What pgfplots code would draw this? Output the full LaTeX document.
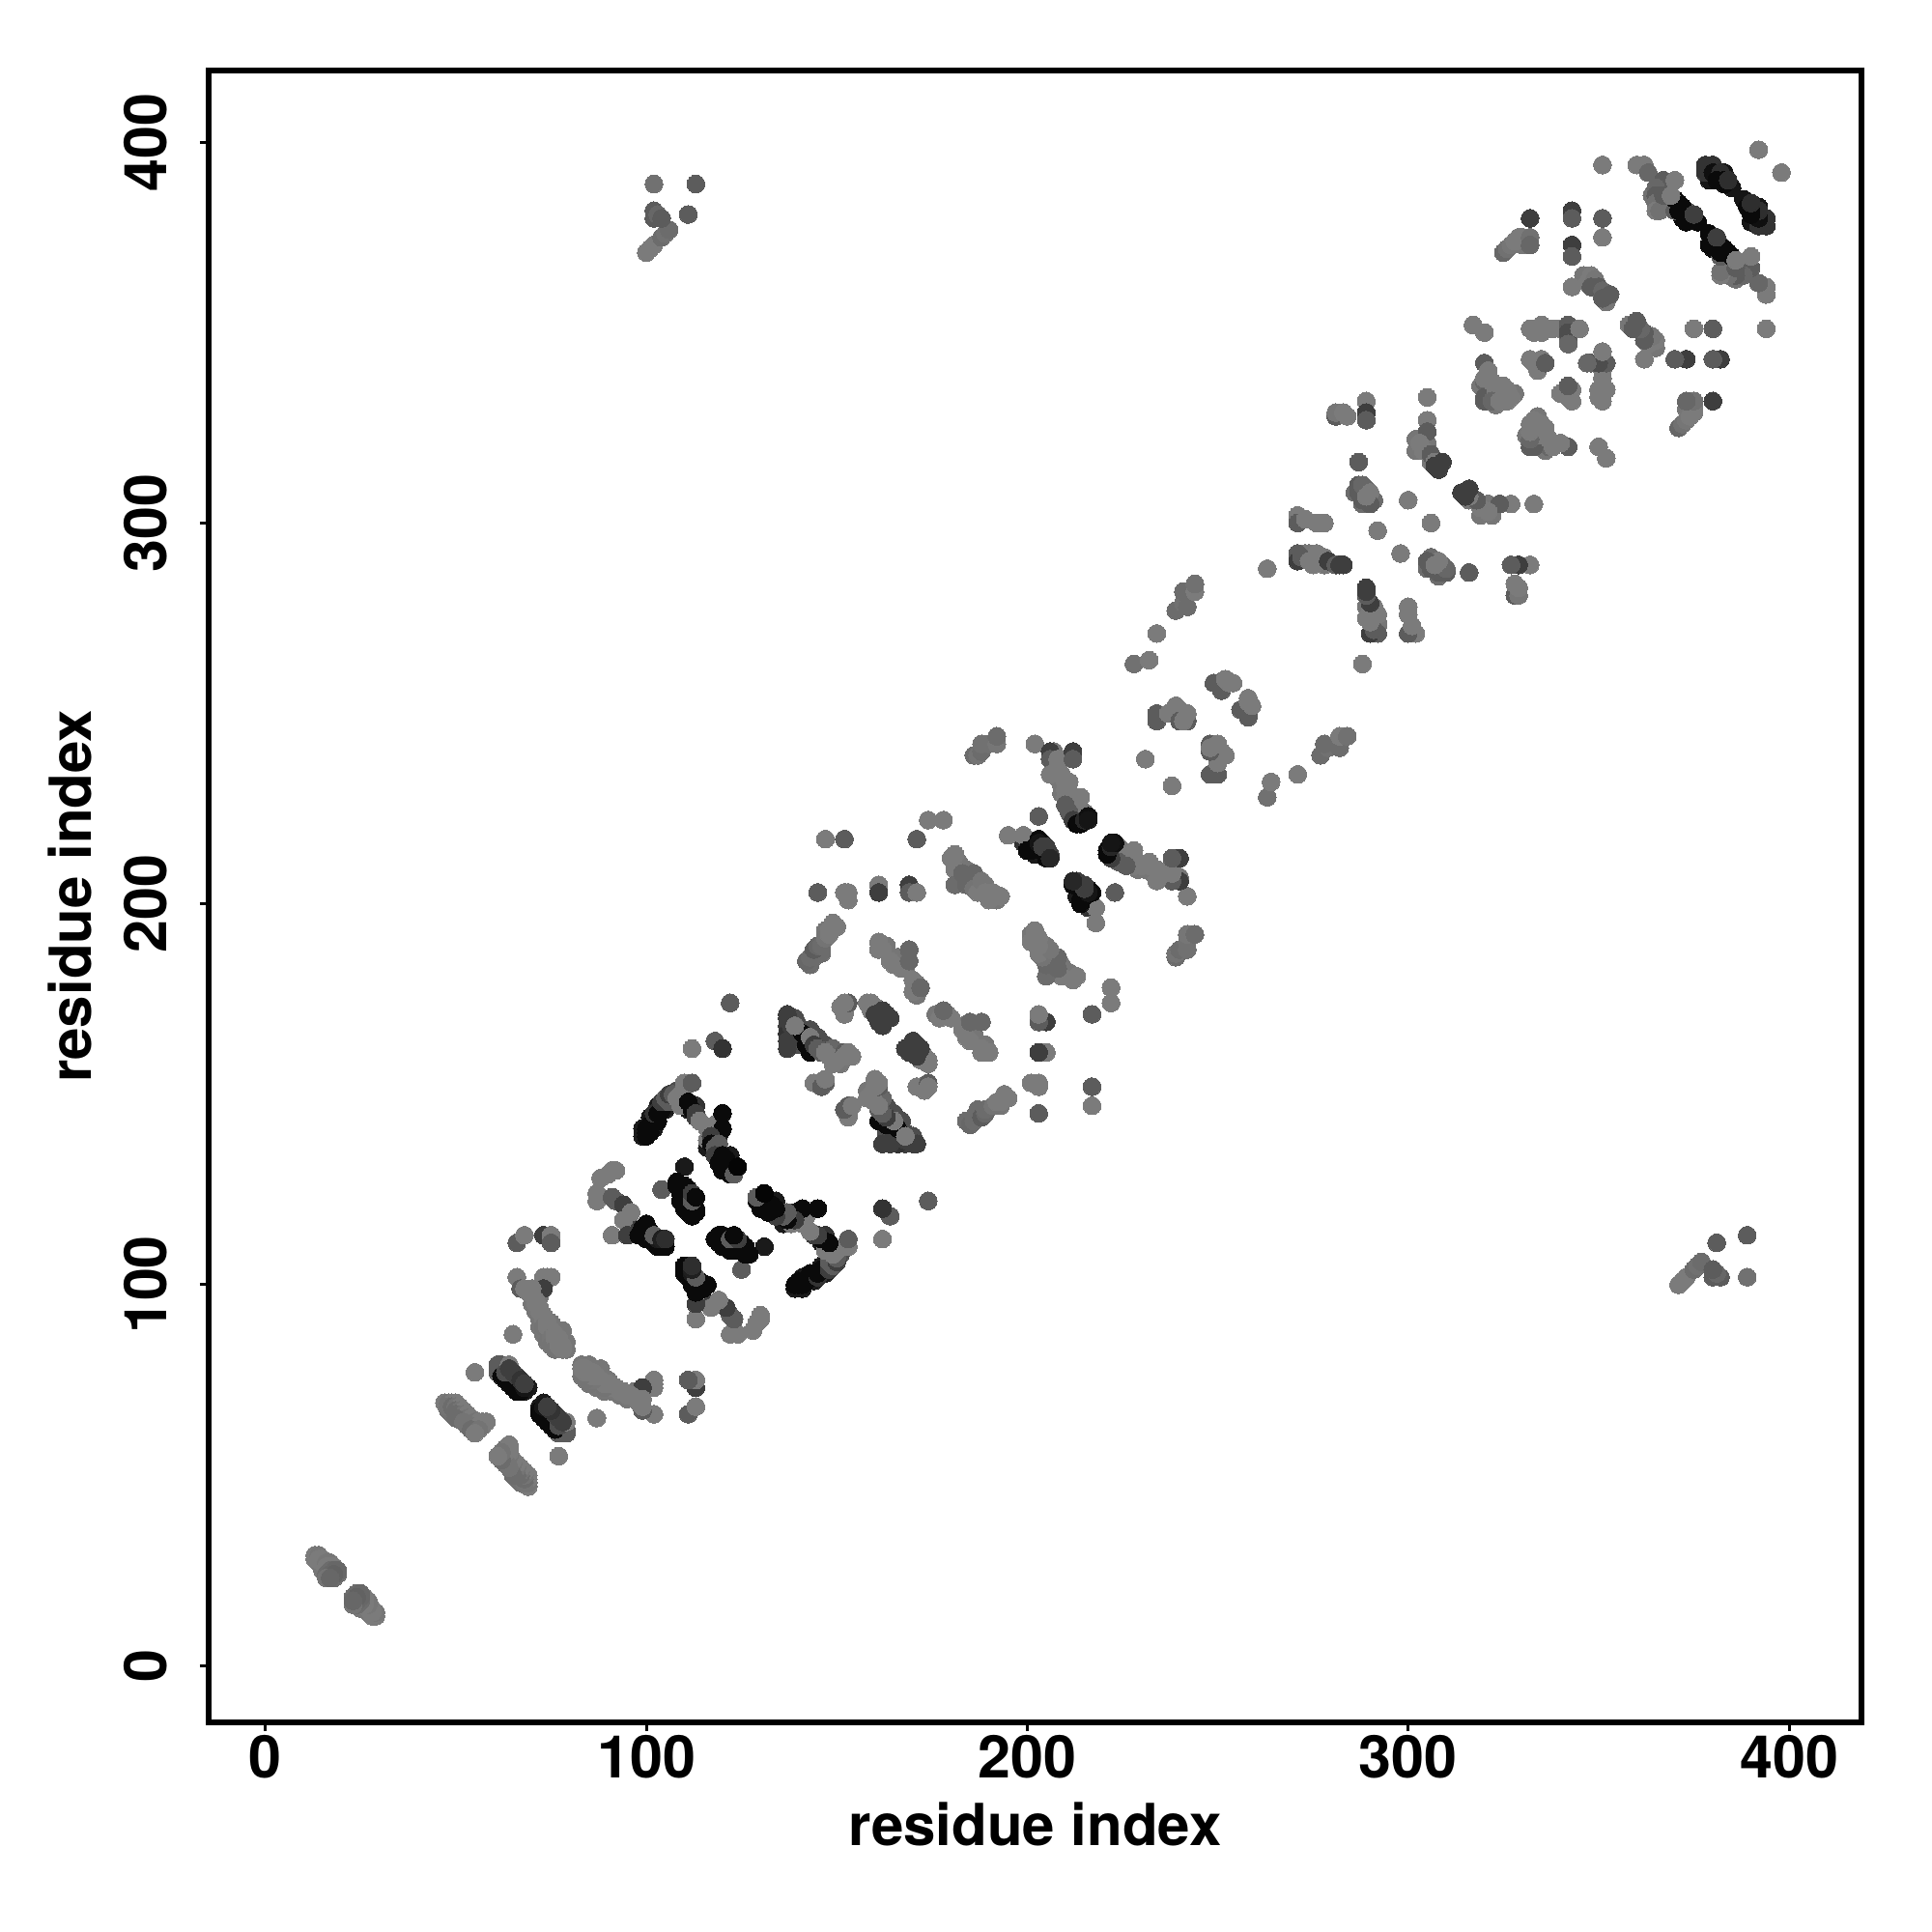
\documentclass[border=0pt]{standalone}
\usepackage{pgfplots}
\usepackage{pgfplotstable}
\usepackage{fontspec}
\setmainfont{TeX Gyre Heros}
\pgfplotsset{compat=1.18}
\pgfplotstableread[row sep=crcr]{
a b g\\
14 27 46\\ 15 26 46\\ 16 25 46\\ 17 27 46\\ 19 24 42\\ 15 25 46\\ 18 23 42\\
48 67 44\\ 49 66 44\\ 49 67 44\\ 51 65 44\\ 52 65 44\\ 53 63 44\\ 53 64 44\\ 55 62 44\\ 55 63 44\\ 57 63 44\\ 51 66 44\\
70 97 46\\ 70 95 46\\ 71 93 46\\ 72 91 46\\ 72 89 46\\ 73 87 46\\ 74 87 46\\ 75 85 46\\ 77 88 46\\ 78 86 46\\ 79 85 46\\ 79 83 46\\ 78 88 46\\ 75 90 46\\ 72 97 46\\
62 78 10\\ 63 78 10\\ 64 76 10\\ 65 75 10\\ 66 74 10\\ 67 74 10\\ 69 73 10\\ 68 72 10\\
99 141 10\\ 99 139 10\\ 101 144 10\\ 102 141 10\\ 103 147 10\\ 105 146 10\\ 107 148 10\\ 108 151 30\\ 111 146 10\\ 113 147 20\\ 117 141 10\\ 118 139 10\\ 119 135 10\\ 116 136 10\\ 122 134 10\\ 121 131 10\\ 119 139 10\\
100 112 4\\ 101 114 4\\ 103 110 4\\ 105 110 4\\ 109 122 4\\ 110 120 4\\ 111 119 4\\ 112 118 4\\
138 165 30\\ 139 163 30\\ 139 170 30\\ 140 168 30\\ 141 163 30\\ 143 167 30\\ 145 165 30\\ 147 163 30\\ 149 162 40\\ 151 158 46\\
143 184 42\\ 144 186 42\\ 146 187 42\\ 147 193 46\\ 163 189 46\\ 166 186 46\\ 168 183 46\\ 171 176 46\\
182 211 46\\ 182 206 46\\ 184 209 46\\ 187 206 46\\ 189 205 46\\ 192 201 46\\
207 236 46\\ 207 240 46\\ 208 233 46\\ 209 231 46\\ 209 229 46\\ 211 227 46\\ 213 225 46\\ 214 224 46\\ 215 224 46\\ 199 216 20\\ 202 213 10\\ 204 216 10\\
273 292 46\\ 274 292 46\\ 276 290 46\\ 278 289 46\\ 286 308 42\\ 289 309 42\\ 291 306 42\\ 288 305 42\\ 302 322 46\\ 302 319 46\\ 305 321 46\\ 306 316 46\\
319 336 46\\ 320 335 46\\ 321 337 46\\ 323 333 46\\ 325 334 46\\ 328 334 46\\ 321 332 46\\ 323 331 46\\ 330 373 46\\ 346 365 46\\ 349 362 46\\ 352 358 46\\
364 386 44\\ 366 384 44\\ 367 384 44\\ 368 388 44\\ 369 383 44\\ 373 379 4\\ 376 379 4\\ 372 380 4\\ 379 390 8\\ 381 392 8\\ 383 392 8\\ 385 388 8\\
13 29 48\\ 13 28 48\\ 14 29 46\\ 14 28 48\\ 15 28 48\\ 15 27 48\\ 16 27 46\\ 16 26 48\\ 17 26 48\\ 18 26 48\\ 17 25 42\\ 18 25 40\\ 19 25 40\\ 16 24 42\\ 17 24 40\\ 18 24 38\\ 16 23 45\\ 17 23 40\\
47 69 48\\ 48 69 45\\ 49 69 48\\ 50 69 48\\ 48 68 45\\ 49 68 42\\ 50 68 45\\ 51 68 48\\ 50 67 42\\ 51 67 45\\ 52 67 48\\ 50 66 42\\ 52 66 45\\ 53 66 48\\ 53 65 45\\ 54 65 48\\ 50 65 42\\ 52 64 45\\ 55 64 45\\ 56 64 48\\ 57 64 48\\ 58 64 48\\ 54 63 45\\ 56 63 48\\ 54 62 42\\ 56 62 45\\ 55 61 48\\
55 77 48\\ 61 79 36\\ 61 77 36\\ 62 79 36\\ 62 76 4\\ 63 75 4\\ 64 74 4\\ 65 73 4\\ 66 72 4\\ 67 72 4\\ 67 73 4\\ 68 73 8\\ 63 77 30\\ 64 79 48\\ 64 78 24\\ 65 77 24\\ 66 76 24\\ 67 75 20\\ 68 74 24\\
65 87 48\\ 66 111 36\\ 68 113 48\\ 73 113 24\\ 75 113 48\\ 75 111 36\\ 66 102 48\\ 73 102 48\\ 74 102 48\\ 75 102 48\\ 67 99 36\\ 68 99 48\\ 73 99 24\\ 70 99 48\\
69 98 48\\ 71 96 48\\ 71 95 48\\ 72 94 48\\ 72 93 48\\ 73 92 48\\ 73 91 48\\ 73 89 45\\ 74 90 48\\ 74 89 48\\ 74 85 45\\ 75 88 48\\ 75 86 46\\ 75 84 45\\ 76 87 48\\ 76 86 48\\ 76 83 45\\ 77 86 48\\ 77 85 48\\ 77 84 48\\ 78 84 48\\ 78 83 48\\
90 129 48\\ 88 128 48\\ 91 130 48\\ 92 130 48\\ 87 124 48\\ 87 122 48\\ 91 123 36\\ 92 122 36\\ 94 121 24\\ 95 119 24\\ 95 118 24\\ 95 117 24\\ 94 117 48\\ 96 119 48\\ 91 113 48\\ 95 113 24\\
100 116 4\\ 99 115 4\\ 100 114 4\\ 98 113 4\\ 100 113 4\\ 101 113 4\\ 102 112 8\\ 102 111 4\\ 103 111 4\\ 104 111 4\\ 103 112 10\\ 102 113 36\\ 104 112 12\\ 105 112 18\\
104 125 36\\ 110 131 10\\ 108 127 4\\ 108 126 4\\ 109 125 4\\ 109 124 4\\ 110 126 4\\ 110 124 4\\ 111 123 4\\ 111 122 4\\ 112 121 4\\ 112 120 4\\ 113 120 4\\ 113 119 4\\ 110 121 4\\ 111 125 4\\ 112 122 36\\ 112 124 24\\ 113 123 4\\
100 139 4\\ 100 140 4\\ 100 141 4\\ 101 142 4\\ 101 140 4\\ 102 143 4\\ 103 143 4\\ 102 145 20\\ 103 145 4\\ 104 146 4\\ 104 148 24\\ 106 148 36\\ 105 149 36\\ 106 150 24\\ 107 150 36\\ 108 149 48\\ 109 150 48\\ 109 147 48\\ 110 152 48\\ 110 153 48\\ 112 153 36\\ 111 148 4\\ 112 146 4\\ 113 145 24\\ 113 144 24\\ 114 143 48\\
116 141 48\\ 118 142 48\\ 120 145 4\\ 120 141 4\\ 116 138 48\\ 117 139 24\\ 117 137 4\\ 118 136 36\\ 119 137 36\\ 118 134 24\\ 120 134 4\\ 121 133 4\\ 119 132 4\\ 120 130 4\\ 122 131 4\\ 123 130 4\\ 122 129 4\\ 123 129 36\\ 124 131 2\\
112 162 48\\ 118 164 36\\ 120 162 20\\ 122 174 36\\
137 171 24\\ 137 170 24\\ 137 168 24\\ 137 166 20\\ 137 164 24\\ 137 162 24\\ 138 168 24\\ 140 165 24\\ 141 166 4\\ 142 165 4\\ 142 163 4\\ 143 161 4\\ 139 168 48\\ 143 165 48\\ 144 163 24\\ 145 162 36\\ 146 161 36\\ 147 161 48\\ 148 160 48\\ 149 158 48\\ 150 159 48\\ 152 161 36\\ 152 160 48\\ 153 161 48\\ 154 160 48\\
144 153 48\\ 145 153 48\\ 146 152 36\\ 147 153 36\\ 147 154 48\\
151 173 48\\ 152 172 48\\ 152 171 48\\ 153 174 36\\ 152 174 48\\ 158 174 48\\ 159 174 48\\ 160 173 48\\ 159 172 48\\ 160 172 48\\ 160 171 24\\ 161 169 24\\ 162 168 24\\ 162 172 24\\ 163 171 24\\ 164 170 24\\
142 185 40\\ 143 186 42\\ 144 188 36\\ 145 189 40\\ 146 189 42\\ 147 191 45\\ 148 192 48\\ 148 193 48\\ 150 194 48\\ 149 195 48\\
145 203 36\\ 147 217 48\\ 152 217 36\\ 152 203 48\\ 153 201 48\\ 153 203 48\\ 161 205 48\\ 161 203 24\\ 169 205 24\\ 169 203 36\\ 171 203 48\\ 171 217 36\\ 174 222 48\\ 178 222 48\\
161 190 48\\ 161 188 48\\ 162 188 48\\ 164 185 48\\ 165 184 48\\ 167 183 48\\ 169 188 40\\ 169 185 40\\ 171 179 48\\ 170 180 48\\ 170 177 48\\ 172 178 40\\
181 213 48\\ 180 212 48\\ 181 209 48\\ 181 205 42\\ 183 208 40\\ 185 207 40\\ 186 208 40\\ 184 205 40\\ 186 204 45\\ 187 203 48\\ 188 206 46\\ 189 203 48\\ 190 201 48\\ 191 203 48\\ 193 202 48\\
186 239 42\\ 187 239 45\\ 188 240 42\\ 188 242 44\\ 190 242 44\\ 192 242 46\\ 192 244 42\\
202 242 48\\ 203 223 36\\ 195 218 48\\ 199 218 48\\ 200 217 48\\ 201 216 48\\ 200 214 4\\ 201 214 4\\ 202 215 4\\ 203 217 4\\ 203 216 8\\ 204 214 4\\ 205 212 4\\ 204 215 24\\ 205 215 24\\ 206 213 24\\ 206 212 15\\
206 240 24\\ 206 238 36\\ 206 234 48\\ 208 238 48\\ 208 236 48\\ 209 238 48\\ 209 234 48\\ 210 232 48\\ 211 232 48\\ 210 230 48\\ 211 229 48\\ 210 228 48\\ 212 226 48\\ 213 227 48\\ 214 228 48\\ 212 240 24\\ 212 238 36\\ 210 226 36\\ 211 224 36\\ 212 222 24\\ 213 221 4\\ 214 221 4\\ 215 222 15\\ 216 223 6\\ 216 222 8\\
231 238 48\\ 234 250 36\\ 234 248 36\\ 237 250 48\\ 239 252 48\\ 240 251 48\\ 240 248 36\\ 242 248 36\\ 241 248 48\\ 242 250 48\\
249 258 36\\ 250 258 36\\ 251 256 36\\ 252 259 48\\ 253 258 48\\ 254 258 48\\
228 263 44\\ 232 264 48\\ 234 271 48\\ 239 277 42\\ 241 279 44\\ 242 278 42\\ 241 282 42\\ 244 282 48\\ 244 284 44\\
263 288 48\\ 271 292 36\\ 271 290 24\\ 272 291 36\\ 274 290 48\\ 275 289 48\\ 277 290 48\\ 276 292 48\\ 278 291 48\\ 279 290 24\\ 281 289 36\\ 282 289 24\\ 283 289 24\\ 271 302 48\\ 271 300 36\\ 273 301 48\\ 276 300 48\\ 278 300 48\\
281 328 36\\ 281 329 46\\ 283 329 48\\ 284 328 48\\ 289 332 48\\ 289 329 24\\ 289 327 36\\ 287 316 36\\ 287 310 36\\ 287 308 36\\ 288 310 40\\ 290 308 48\\ 288 306 36\\ 290 305 36\\ 289 307 48\\ 292 298 48\\ 300 306 48\\
305 333 48\\ 305 327 48\\ 305 324 36\\ 303 321 48\\ 304 319 48\\ 306 318 36\\ 307 316 48\\ 307 315 24\\ 308 314 24\\ 309 316 24\\
317 352 48\\ 320 350 48\\ 320 342 36\\ 320 337 40\\ 320 333 36\\ 320 332 36\\ 321 340 48\\ 320 338 48\\ 322 337 48\\ 323 335 48\\ 325 336 48\\ 326 335 48\\ 327 333 48\\ 322 332 40\\ 324 332 48\\ 326 332 48\\
332 351 48\\ 333 350 48\\ 335 352 48\\ 335 350 48\\ 338 351 48\\ 340 351 48\\ 342 352 36\\ 342 348 36\\ 342 350 30\\ 342 347 40\\ 345 351 48\\ 332 343 48\\ 333 342 48\\ 335 343 48\\ 334 340 48\\ 336 342 36\\
325 371 40\\ 326 372 44\\ 327 373 46\\ 328 374 48\\ 329 375 48\\ 330 375 48\\ 332 375 44\\ 332 373 40\\ 332 380 24\\ 343 382 24\\ 343 380 36\\ 351 380 36\\ 351 375 48\\ 343 373 24\\ 343 370 36\\ 343 362 48\\ 348 365 48\\ 347 363 48\\ 349 364 46\\ 348 362 36\\ 350 362 36\\ 351 361 40\\ 351 359 36\\ 353 360 36\\
351 394 48\\ 360 394 48\\ 362 394 48\\ 363 392 40\\ 367 390 36\\ 365 388 40\\ 365 386 36\\ 365 384 44\\ 365 382 48\\ 366 382 44\\ 367 386 36\\ 370 382 36\\ 373 382 36\\ 370 385 4\\ 371 384 4\\ 372 383 4\\ 371 382 4\\ 373 381 4\\ 374 380 4\\ 375 380 4\\ 369 386 48\\ 370 390 48\\ 375 381 24\\
378 394 20\\ 380 394 20\\ 378 392 20\\ 380 392 6\\ 382 392 18\\ 381 390 4\\ 383 390 4\\ 383 389 4\\ 384 390 18\\ 392 398 48\\
100 371 48\\ 101 372 48\\ 102 373 48\\ 104 375 42\\ 105 376 44\\ 106 377 42\\ 102 382 36\\ 102 380 36\\ 103 381 40\\ 104 380 36\\ 111 381 36\\ 102 389 44\\ 113 389 36\\
}\contacts
\begin{document}
\begin{tikzpicture}
\begin{axis}[
  scale only axis, width=342.2pt, height=342pt,
  xmin=-14.9, xmax=419, ymin=-14.9, ymax=418.8,
  axis line style={line width=1.2pt, black},
  xtick={0,100,200,300,400}, ytick={0,100,200,300,400},
  xticklabels={0,100,200,300,400}, yticklabels={0,100,200,300,400},
  tick align=outside, tick pos=left, major tick length=1.8pt,
  tick style={line width=0.6pt, black},
  ticklabel style={font=\bfseries\fontsize{12.2}{14}\selectfont},
  yticklabel style={rotate=90, anchor=south, yshift=3.3pt},
  xticklabel style={yshift=2.6pt},
  xlabel={residue index}, ylabel={residue index},
  label style={font=\bfseries\fontsize{12}{14}\selectfont},
  xlabel style={yshift=2pt},
  ylabel style={yshift=-0.3pt},
  colormap={g}{gray=(0) gray=(1)},
  point meta min=0, point meta max=100,
  scatter/use mapped color={draw=mapped color, fill=mapped color},
  clip mode=individual,
]
\addplot[scatter, only marks, mark=*, mark size=1.85pt, mark options={line width=0pt}, point meta=explicit] table[x=a, y=b, meta=g] {\contacts};
\addplot[scatter, only marks, mark=*, mark size=1.85pt, mark options={line width=0pt}, point meta=explicit] table[x=b, y=a, meta=g] {\contacts};
\end{axis}
\path[use as bounding box] (-43.2pt,-43.4pt) rectangle (356.8pt,356.6pt);
\end{tikzpicture}
\end{document}
